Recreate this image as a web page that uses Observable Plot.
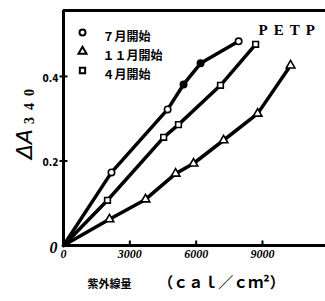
<!DOCTYPE html>
<html><head><meta charset="utf-8">
<script src="https://cdn.jsdelivr.net/npm/d3@7"></script>
<script src="https://cdn.jsdelivr.net/npm/@observablehq/plot@0.6"></script>
<style>body{margin:0;background:#fff}</style>
</head><body><div id="chart"></div>
<script>
const seriesNames = ["７月開始", "１１月開始", "４月開始"];
const seriesSymbols = ["circle", "triangle", "square"];
const julX = [0, 2170, 4710, 5430, 6200, 7920];
const julY = [0, 0.173, 0.322, 0.381, 0.431, 0.483];
const julFilled = [false, false, false, true, true, false];
const novX = [0, 2080, 3710, 5070, 5880, 7240, 8780, 10270];
const novY = [0, 0.062, 0.109, 0.170, 0.194, 0.249, 0.312, 0.426];
const aprX = [0, 1990, 4530, 5200, 7100, 8690];
const aprY = [0, 0.107, 0.256, 0.286, 0.379, 0.476];
const xTicks = [0, 3000, 6000, 9000];
const xTickLabels = ["0", "3000", "6000", "9000"];
const yTicks = [0.2, 0.4];
const yTickLabels = ["0.2", "0.4"];
const yZeroLabel = "0";
const xDomain = [0, 11850];
const yDomain = [0, 0.556];
const yTitleMain = "ΔA";
const yTitleSub = "340";
const xTitleA = "紫外線量";
const xTitleB = "（ｃａｌ／ｃｍ²）";
const plotTitle = "PETP";

const seriesX = [julX, novX, aprX];
const seriesY = [julY, novY, aprY];
const rows = [];
seriesNames.forEach((s, k) => {
  seriesX[k].forEach((x, i) => rows.push({series: s, k, i, x, y: seriesY[k][i],
    fill: (k === 0 && julFilled[i]) ? "black" : "white"}));
});

const tickUp = {draw(ctx) { ctx.moveTo(0, 0); ctx.lineTo(0, -5); }};
const tickCross = {draw(ctx) { ctx.moveTo(-4, 0); ctx.lineTo(4, 0); }};
const jp = "Noto Sans CJK JP";
const serif = "Liberation Serif";

const marks = [
  Plot.ruleX([xDomain[0]], {stroke: "black", strokeWidth: 3}),
  Plot.ruleY([yDomain[0]], {stroke: "black", strokeWidth: 3}),
  Plot.ruleY([yDomain[1]], {stroke: "black", strokeWidth: 3}),
  Plot.dot(xTicks.slice(1), {x: d => d, y: 0, symbol: tickUp, stroke: "black", strokeWidth: 2}),
  Plot.dot(yTicks, {x: 0, y: d => d, symbol: tickCross, stroke: "black", strokeWidth: 2}),
  Plot.line(rows, {x: "x", y: "y", z: "series", stroke: "black", strokeWidth: 3.5}),
];
seriesNames.forEach((s, k) => {
  marks.push(Plot.dot(rows.filter(d => d.k === k && d.i > 0), {x: "x", y: "y", symbol: seriesSymbols[k],
    r: 3.2, stroke: "black", strokeWidth: 1.6, fill: "fill"}));
  marks.push(Plot.dot([s], {frameAnchor: "top-left", dx: 19, dy: 22 + 19 * k, symbol: seriesSymbols[k],
    r: 3, stroke: "black", strokeWidth: 2, fill: "white"}));
  marks.push(Plot.text([s], {frameAnchor: "top-left", dx: 39, dy: 22 + 19 * k, text: d => d,
    textAnchor: "start", fontSize: 12, fontWeight: "bold", fontFamily: jp}));
});
marks.push(
  Plot.text(xTicks, {x: d => d, y: 0, text: (d, i) => xTickLabels[i], dy: 9, fontSize: 12,
    fontStyle: "italic", fontWeight: "bold", fontFamily: serif}),
  Plot.text(yTicks, {x: 0, y: d => d, text: (d, i) => yTickLabels[i], dx: -5, dy: 2, textAnchor: "end",
    fontSize: 10, fontWeight: "bold", fontFamily: "DejaVu Sans Condensed"}),
  Plot.text([yZeroLabel], {x: 0, y: 0, text: d => d, dx: -10, dy: 2, fontSize: 16,
    fontStyle: "italic", fontWeight: "bold", fontFamily: serif}),
  Plot.text([yTitleMain], {frameAnchor: "left", dx: -39, dy: 31, rotate: -90, text: d => d,
    fontSize: 22, fontFamily: "DejaVu Sans", fontStyle: "italic"}),
  Plot.text([yTitleSub], {frameAnchor: "left", dx: -34, dy: -4, rotate: -90, text: d => d,
    textAnchor: "start", fontSize: 14, fontWeight: "bold", fontFamily: serif}),
  Plot.text([xTitleA], {frameAnchor: "bottom", dx: -85, dy: 42, text: d => d,
    fontSize: 11, fontWeight: "bold", fontFamily: jp}),
  Plot.text([xTitleB], {frameAnchor: "bottom", dx: 27, dy: 42, text: d => d,
    fontSize: 15, fontWeight: "bold", fontFamily: jp}),
  Plot.text([plotTitle], {frameAnchor: "top-right", dx: -67, dy: 14, text: d => d,
    textAnchor: "start", fontSize: 15, fontWeight: "bold", fontFamily: serif})
);

const chart = Plot.plot({
  width: 325, height: 301,
  marginLeft: 63, marginRight: 0, marginTop: 10, marginBottom: 56,
  style: {background: "white", color: "black"},
  x: {domain: xDomain, axis: null},
  y: {domain: yDomain, axis: null},
  marks
});
const spacing = {[plotTitle]: 6, [yTitleSub]: 7};
d3.select(chart).selectAll("text").each(function() {
  const t = this.textContent;
  if (t in spacing) this.setAttribute("letter-spacing", spacing[t]);
});
document.getElementById("chart").appendChild(chart);
</script>
</body></html>
